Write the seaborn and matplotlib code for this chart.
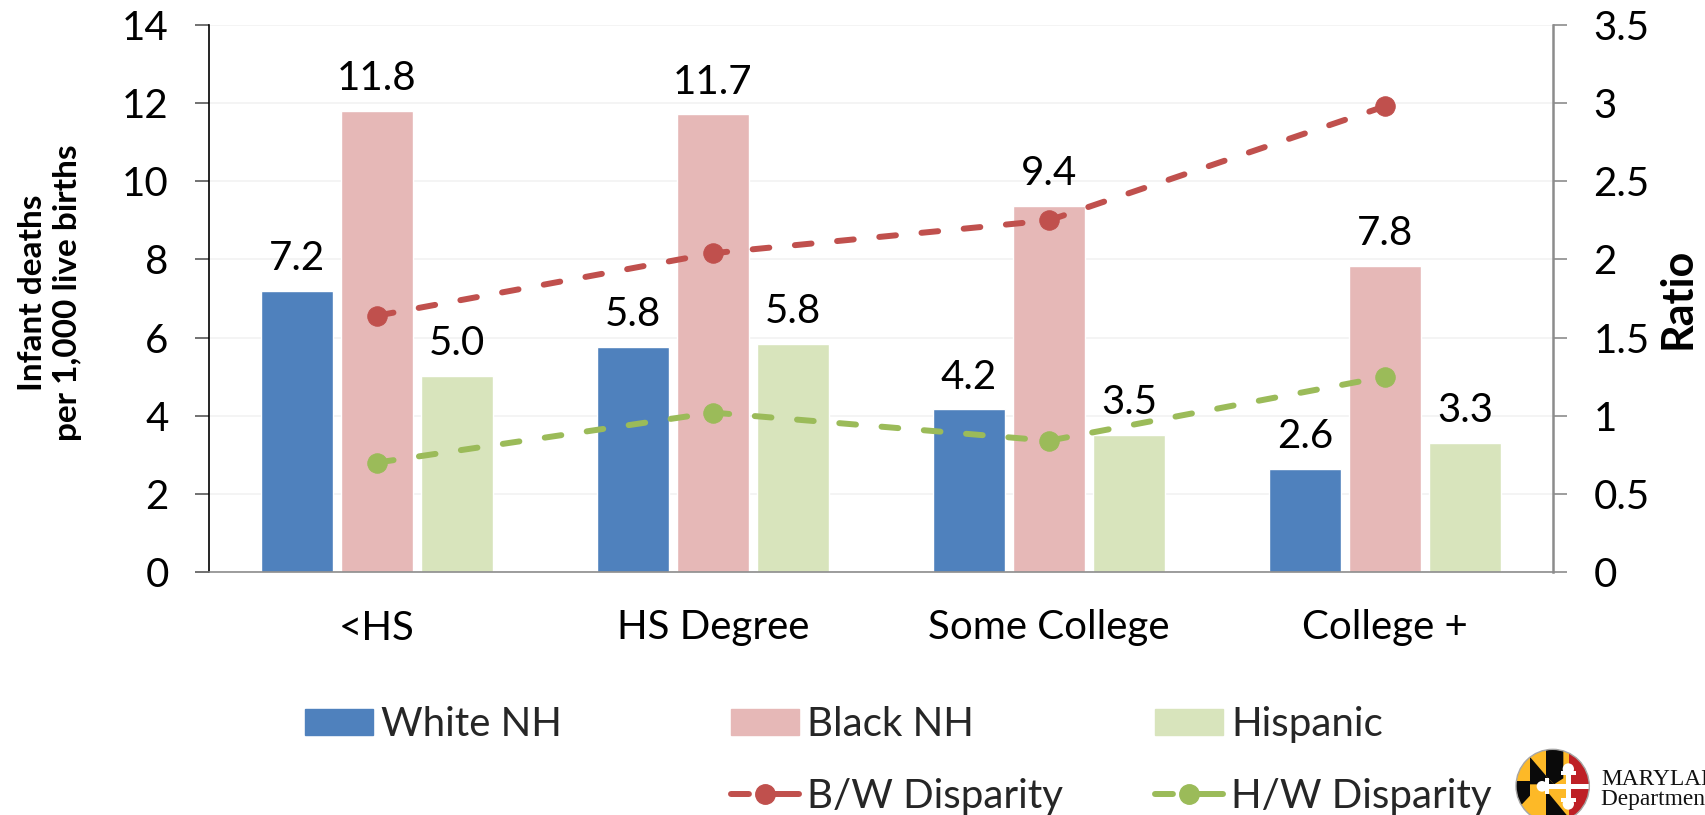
import pandas as pd
import seaborn as sns
import matplotlib.pyplot as plt
from matplotlib.lines import Line2D
from matplotlib.patches import Circle, Patch, Polygon, Rectangle


CATEGORIES = ["<HS", "HS Degree", "Some College", "College +"]
WHITE_NH = [7.20, 5.76, 4.16, 2.63]
BLACK_NH = [11.80, 11.71, 9.36, 7.83]
HISPANIC = [5.02, 5.83, 3.51, 3.30]
BW_DISPARITY = [1.64, 2.04, 2.25, 2.98]
HW_DISPARITY = [0.70, 1.02, 0.84, 1.25]
LEFT_TICKS = [0, 2, 4, 6, 8, 10, 12, 14]
RIGHT_TICKS = [0, 0.5, 1, 1.5, 2, 2.5, 3, 3.5]
RIGHT_LABELS = ["0", "0.5", "1", "1.5", "2", "2.5", "3", "3.5"]

BLUE = "#4F81BD"
PINK = "#E6B8B7"
PALE_GREEN = "#D8E4BC"
RED = "#C0504D"
GREEN = "#9BBB59"
YELLOW = "#FDB927"
LOGO_BLACK = "#0A0A0A"
LOGO_RED = "#BE2026"
LINE_WIDTH = 4.3
DASH = (0, (2.8, 4.3))
HANDLE_DASH = (0, (3, 2, 30, 1))
WIDTH, HEIGHT = 1705, 815
FS = 29


def fig_rect(x0, y0, x1, y1):
    # pixel box (y down) to figure fractions
    return [x0 / WIDTH, 1 - y1 / HEIGHT, (x1 - x0) / WIDTH, (y1 - y0) / HEIGHT]


def draw_logo(fig):
    logo = fig.add_axes(fig_rect(1510, 745, 1595, 815))
    logo.set_xlim(0, 255)
    logo.set_ylim(210, 0)
    logo.axis("off")
    clip = Circle((128, 123), 110, transform=logo.transData)

    shapes = [
        (Rectangle((0, 0), 255, 210), YELLOW),
        (Polygon([(108, 0), (160, 0), (160, 100), (132, 118), (108, 92)]), LOGO_BLACK),
        (Polygon([(60, 36), (108, 92), (132, 118), (60, 118)]), LOGO_BLACK),
        (Polygon([(0, 108), (60, 108), (60, 152), (34, 180), (0, 180)]), LOGO_BLACK),
        (Polygon([(108, 135), (170, 210), (108, 210)]), LOGO_BLACK),
        (Rectangle((178, 0), 80, 210), LOGO_RED),
        (Rectangle((90, 117), 160, 15), "white"),
        (Rectangle((168, 62), 15, 126), "white"),
        (Circle((96, 124), 16), "white"),
        (Rectangle((104, 100), 12, 48), "white"),
        (Circle((175, 72), 17), "white"),
        (Rectangle((152, 78), 46, 12), "white"),
        (Circle((175, 177), 17), "white"),
        (Rectangle((152, 158), 46, 12), "white"),
    ]
    for shape, color in shapes:
        shape.set_facecolor(color)
        shape.set_edgecolor("none")
        logo.add_patch(shape)
        shape.set_clip_path(clip)
    logo.add_patch(Circle((128, 123), 110, facecolor="none", edgecolor="#A6A6A6", linewidth=1))


def legend_line(color):
    return Line2D(
        [],
        [],
        color=color,
        linewidth=LINE_WIDTH,
        linestyle=HANDLE_DASH,
        dash_capstyle="round",
        marker="o",
        markersize=14,
    )


def draw_legends(fig):
    columns = [
        (305, [Patch(color=BLUE)], ["White NH"]),
        (731, [Patch(color=PINK), legend_line(RED)], ["Black NH", "B/W Disparity"]),
        (1155, [Patch(color=PALE_GREEN), legend_line(GREEN)], ["Hispanic", "H/W Disparity"]),
    ]
    for x, handles, labels in columns:
        fig.legend(
            handles,
            labels,
            loc="upper left",
            bbox_to_anchor=(x / WIDTH, 1 - 706 / HEIGHT),
            frameon=False,
            fontsize=FS,
            borderpad=0,
            borderaxespad=0,
            handlelength=1.69,
            handleheight=0.62,
            handletextpad=0.2,
            labelspacing=0.87,
        )


def main():
    sns.set_theme(style="white")
    plt.rcParams["font.family"] = ["Lato", "DejaVu Sans"]

    df = pd.DataFrame(
        {
            "education": CATEGORIES * 3,
            "rate": WHITE_NH + BLACK_NH + HISPANIC,
            "group": ["White NH"] * 4 + ["Black NH"] * 4 + ["Hispanic"] * 4,
        }
    )

    fig = plt.figure(figsize=(WIDTH / 100, HEIGHT / 100), dpi=100)
    ax = fig.add_axes(fig_rect(209, 25, 1553, 572))

    sns.barplot(
        data=df,
        x="education",
        y="rate",
        hue="group",
        palette=[BLUE, PINK, PALE_GREEN],
        width=0.714,
        gap=0.11,
        saturation=1,
        legend=False,
        ax=ax,
    )
    for container in ax.containers:
        ax.bar_label(container, fmt="%.1f", padding=10, fontsize=FS, color="black")

    ax.set_xlim(-0.5, 3.5)
    ax.set_ylim(0, 14)
    ax.set_yticks(LEFT_TICKS)
    ax.set_xlabel("")
    ax.set_ylabel("Infant deaths\nper 1,000 live births", fontsize=24, fontweight="bold", color="black", linespacing=1.25)
    ax.yaxis.set_label_coords(-0.0945, 0.51)
    ax.grid(axis="y", color="#F2F2F2", linewidth=1.2)
    ax.set_axisbelow(True)
    ax.tick_params(axis="x", length=0, pad=27, labelsize=FS, labelcolor="black")
    ax.tick_params(axis="y", left=True, length=10, width=1.2, color="#595959", pad=19, labelsize=FS, labelcolor="black")
    ax.spines["top"].set_visible(False)
    ax.spines["right"].set_visible(False)
    ax.spines["left"].set_color("black")
    ax.spines["left"].set_linewidth(1.2)
    ax.spines["bottom"].set_color("#8C8C8C")
    ax.spines["bottom"].set_linewidth(1.2)

    ax2 = ax.twinx()
    positions = list(range(len(CATEGORIES)))
    for values, color in [(BW_DISPARITY, RED), (HW_DISPARITY, GREEN)]:
        sns.lineplot(
            x=positions,
            y=values,
            color=color,
            linewidth=LINE_WIDTH,
            linestyle=DASH,
            dash_capstyle="round",
            marker="o",
            markersize=14,
            markeredgecolor=color,
            legend=False,
            ax=ax2,
        )
    ax2.set_xlim(-0.5, 3.5)
    ax2.set_ylim(0, 3.5)
    ax2.set_yticks(RIGHT_TICKS, RIGHT_LABELS)
    ax2.grid(False)
    ax2.tick_params(axis="y", right=True, length=10, width=1.2, color="#8C8C8C", pad=19, labelsize=FS, labelcolor="black")
    ax2.set_ylabel("Ratio", fontsize=31, fontweight="bold", color="black")
    ax2.yaxis.set_label_coords(1.078, 0.5)
    ax2.spines["top"].set_visible(False)
    ax2.spines["left"].set_visible(False)
    ax2.spines["bottom"].set_visible(False)
    ax2.spines["right"].set_color("#8C8C8C")
    ax2.spines["right"].set_linewidth(1.8)

    draw_legends(fig)
    draw_logo(fig)
    fig.text(1601 / WIDTH, 1 - 785 / HEIGHT, "MARYLAND", family="Liberation Serif", fontsize=16.8, color="#111111")
    fig.text(1601 / WIDTH, 1 - 805 / HEIGHT, "Department of Health", family="Liberation Serif", fontsize=16.8, color="#111111")

    fig.savefig("out.png", dpi=100)
    plt.close(fig)


if __name__ == "__main__":
    main()
